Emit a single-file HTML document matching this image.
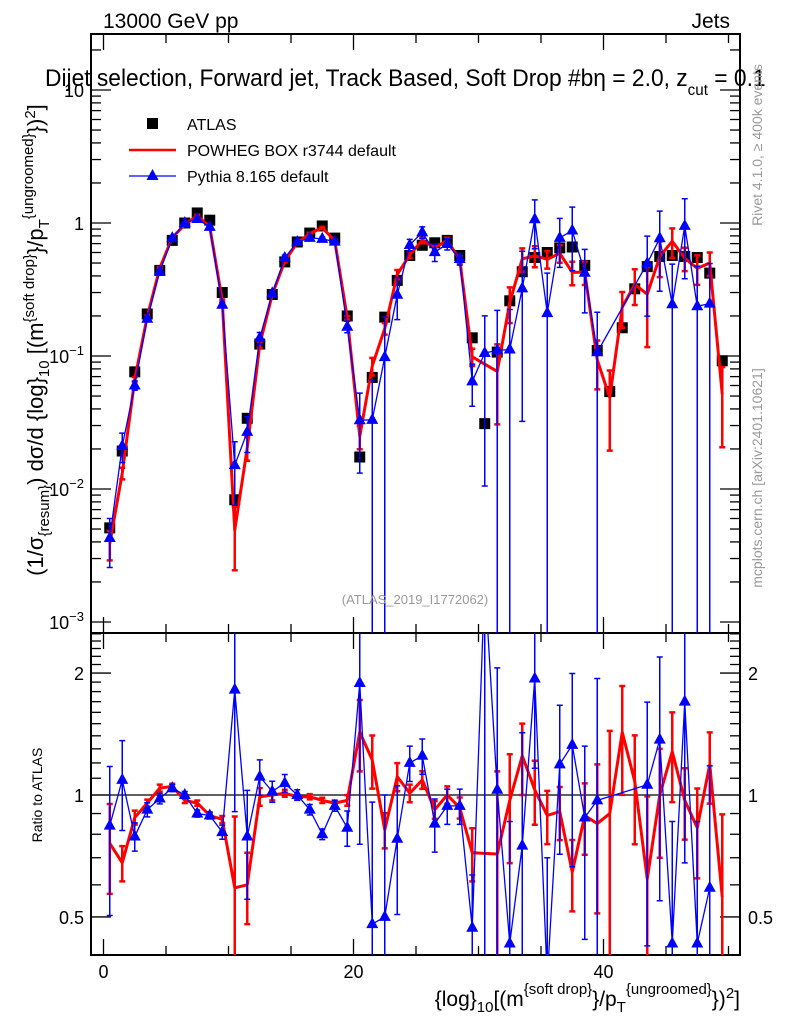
<!DOCTYPE html>
<html><head><meta charset="utf-8"><style>
html,body{margin:0;padding:0;background:#fff;width:786px;height:1024px;overflow:hidden;}
svg{display:block;font-family:"Liberation Sans",sans-serif;}
</style></head><body>
<svg id="c" width="786" height="1024" xmlns="http://www.w3.org/2000/svg">
<defs>
<clipPath id="cm"><rect x="91" y="34" width="649" height="599"/></clipPath>
<clipPath id="cr"><rect x="91" y="633" width="649" height="322"/></clipPath>
</defs>
<text x="103" y="28" font-size="21">13000 GeV pp</text>
<text x="730" y="28" font-size="21" text-anchor="end">Jets</text>
<g id="frames"></g>
<g id="marks"></g>
<text x="45" y="86" font-size="24" transform="translate(45,0) scale(0.95,1) translate(-45,0)">Dijet selection, Forward jet, Track Based, Soft Drop #b<tspan>η</tspan> = 2.0, z<tspan font-size="16" dy="9">cut</tspan><tspan dy="-9"> = 0.1</tspan></text>
<g>
<rect x="147" y="118" width="11" height="11" fill="#000"/>
<text x="187" y="130" font-size="16">ATLAS</text>
<line x1="129" y1="150" x2="176" y2="150" stroke="#f00" stroke-width="2.5"/>
<text x="187" y="156" font-size="16">POWHEG BOX r3744 default</text>
<line x1="129" y1="176" x2="176" y2="176" stroke="#00f" stroke-width="1.3"/>
<polygon points="152.5,169 146.5,180 158.5,180" fill="#00f"/>
<text x="187" y="182" font-size="16">Pythia 8.165 default</text>
</g>
<text x="415" y="604" font-size="13" fill="#999" text-anchor="middle">(ATLAS_2019_I1772062)</text>
<text transform="translate(43,340) rotate(-90)" font-size="22" text-anchor="middle">(1/σ<tspan font-size="15" dy="6">{resum}</tspan><tspan dy="-6">) dσ/d {log}</tspan><tspan font-size="15" dy="6">10</tspan><tspan dy="-6"> [(m</tspan><tspan font-size="15" dy="-9">{soft drop}</tspan><tspan dy="9">}/p</tspan><tspan font-size="15" dy="6">T</tspan><tspan font-size="15" dy="-16">{ungroomed}</tspan><tspan dy="10">})</tspan><tspan font-size="15" dy="-8">2</tspan><tspan dy="8">]</tspan></text>
<text transform="translate(42,795) rotate(-90)" font-size="14" text-anchor="middle">Ratio to ATLAS</text>
<text transform="translate(762,145) rotate(-90)" font-size="14" fill="#999" text-anchor="middle">Rivet 4.1.0, ≥ 400k events</text>
<text transform="translate(762,478) rotate(-90)" font-size="14" fill="#999" text-anchor="middle">mcplots.cern.ch [arXiv:2401.10621]</text>
<text x="740" y="1006" font-size="21" text-anchor="end">{log}<tspan font-size="15" dy="6">10</tspan><tspan dy="-6">[(m</tspan><tspan font-size="15" dy="-12">{soft drop}</tspan><tspan dy="12">}/p</tspan><tspan font-size="15" dy="6">T</tspan><tspan font-size="15" dy="-18">{ungroomed}</tspan><tspan dy="12">})</tspan><tspan font-size="15" dy="-8">2</tspan><tspan dy="8">]</tspan></text>
</svg>
<script>
const atlas=[0.0051,0.0193,0.076,0.207,0.44,0.74,1.0,1.19,1.05,0.30,0.0083,0.034,0.123,0.29,0.51,0.72,0.84,0.95,0.77,0.2,0.0174,0.069,0.196,0.37,0.57,0.68,0.71,0.74,0.57,0.137,0.031,0.107,0.26,0.43,0.55,0.6,0.65,0.66,0.48,0.11,0.054,0.163,0.32,0.47,0.56,0.57,0.56,0.55,0.42,0.092];
const powhegRatio=[0.76,0.68,0.88,0.955,1.04,1.05,0.97,0.955,0.89,0.87,0.59,0.6,0.99,1.0,1.01,0.99,0.99,0.97,0.955,0.97,1.43,1.22,0.82,1.11,1.01,1.09,0.92,1.0,0.93,0.72,null,0.715,0.97,1.25,1.03,0.89,0.91,0.645,0.89,0.85,0.9,1.43,1.08,0.62,1.0,1.28,0.97,0.83,1.19,0.56];
const powhegErr=[0.25,0.1,0.04,0.02,0.02,0.015,0.015,0.015,0.015,0.02,0.5,0.2,0.05,0.03,0.02,0.015,0.015,0.015,0.015,0.03,0.2,0.15,0.1,0.08,0.05,0.05,0.05,0.05,0.06,0.15,0,0.6,0.3,0.2,0.18,0.15,0.15,0.2,0.2,0.4,0.6,0.3,0.3,0.6,0.3,0.25,0.2,0.25,0.2,0.6];
const pythiaRatio=[0.84,1.09,0.79,0.92,0.98,1.04,1.0,0.9,0.89,0.81,1.82,0.79,1.11,1.02,1.07,1.0,0.92,0.8,0.94,0.83,1.89,0.48,0.5,0.78,1.2,1.25,0.85,0.94,0.94,0.47,3.4,1.03,0.43,0.75,1.94,0.35,1.19,1.33,0.88,0.97,null,null,null,1.06,1.37,0.43,1.7,0.43,0.59,null];
const pythiaErr=[0.4,0.25,0.08,0.04,0.03,0.02,0.02,0.02,0.02,0.04,0.5,0.3,0.1,0.06,0.05,0.03,0.03,0.03,0.03,0.1,0.6,1,1,0.35,0.1,0.1,0.15,0.1,0.1,0.35,0.9,1,1,0.9,0.4,1,0.4,0.5,0.5,1,0,0,0,0.6,0.6,1,0.6,1,1,0];
const xTicks=[0,20,40];
const mainTickLabels=["10","1","10⁻¹","10⁻²","10⁻³"];
const ratioTickLabels=["0.5","1","2"];

const NS="http://www.w3.org/2000/svg";
const L=91,R=740,MT=34,MB=633,RB=955;
function X(v){return 103.5+12.5*v;}
function YM(v){return 622-(Math.log10(v)+3)*133;}
function YR(r){return 795-Math.log10(r)*405;}
function el(tag,attrs,parent){const e=document.createElementNS(NS,tag);for(const k in attrs)e.setAttribute(k,attrs[k]);parent.appendChild(e);return e;}
const fr=document.getElementById('frames');
const mk=document.getElementById('marks');

let f=el('rect',{x:L,y:MT,width:R-L,height:MB-MT,fill:'none',stroke:'#000','stroke-width':2},fr);


f=el('rect',{x:L,y:MB,width:R-L,height:RB-MB,fill:'none',stroke:'#000','stroke-width':2},fr);


let ref=el('line',{x1:L,x2:R,y1:YR(1),y2:YR(1),stroke:'#000','stroke-width':1.2},fr);



for(let v=0;v<=50;v+=5){
  const major=xTicks.indexOf(v)>=0;const len=major?16:9;const x=X(v);
  for(const [y0,d] of [[MT,1],[MB,-1],[MB,1],[RB,-1]]){
    const t=el('line',{x1:x,x2:x,y1:y0,y2:y0+d*len,stroke:'#000','stroke-width':1.3},fr);
    
    
  }
}
xTicks.forEach(v=>{
  const t=el('text',{x:X(v),y:978,'font-size':18,'text-anchor':'middle'},fr);t.textContent=v;
  
  
});
for(let e=-3;e<=1;e++){
  for(let m=1;m<=9;m++){
    const v=m*Math.pow(10,e);const y=YM(v);if(y<MT||y>MB)continue;
    const len=m==1?20:10;
    for(const [x0,d] of [[L,1],[R,-1]]){
      const t=el('line',{x1:x0,x2:x0+d*len,y1:y,y2:y,stroke:'#000','stroke-width':1.3},fr);
      
      
    }
  }
}
[1,0,-1,-2,-3].forEach((e,i)=>{
  const y=YM(Math.pow(10,e));
  const t=el('text',{x:84,y:y+7,'font-size':18,'text-anchor':'end'},fr);
  if(e>=0)t.textContent=mainTickLabels[i];
  else{t.textContent='10';const s=el('tspan',{dy:-8,'font-size':13},t);s.textContent=String(e).replace('-','−');}
  
  
});
for(let k=4;k<=25;k++){
  const r=k/10;const y=YR(r);if(y<MB||y>RB)continue;
  const major=(k==5||k==10||k==20);const len=major?20:10;
  for(const [x0,d] of [[L,1],[R,-1]]){
    const t=el('line',{x1:x0,x2:x0+d*len,y1:y,y2:y,stroke:'#000','stroke-width':1.3},fr);
    
    
  }
}
[0.5,1,2].forEach((r,i)=>{
  for(const [x,a] of [[84,'end'],[748,'start']]){
    const t=el('text',{x:x,y:YR(r)+7,'font-size':18,'text-anchor':a},fr);t.textContent=ratioTickLabels[i];
    
    
  }
});

const gm=el('g',{'clip-path':'url(#cm)'},mk);
const gr=el('g',{'clip-path':'url(#cr)'},mk);

atlas.forEach((v,i)=>{
  const s=el('rect',{x:X(i+0.5)-5.5,y:YM(v)-5.5,width:11,height:11,fill:'#000'},gm);
  
  
});

function series(ratio,err,color,w,tri,name){
  let pm='',pr='';
  ratio.forEach((r,i)=>{
    if(r===null)return;
    const x=X(i+0.5);const v=atlas[i]*r;
    pm+=(pm?'L':'M')+x+','+YM(v);
    pr+=(pr?'L':'M')+x+','+YR(r);
  });
  let p=el('path',{d:pm,fill:'none',stroke:color,'stroke-width':w,'stroke-linejoin':'round'},gm);
  
  
  p=el('path',{d:pr,fill:'none',stroke:color,'stroke-width':w,'stroke-linejoin':'round'},gr);
  
  
  ratio.forEach((r,i)=>{
    if(r===null)return;
    const x=X(i+0.5);const v=atlas[i]*r;const e=err[i];
    if(e>0){
      const hi=v*(1+e),lo=v*(1-e);
      const yh=YM(hi),yl=lo>0?YM(lo):MB+5;
      const b=el('path',{d:`M${x},${yh}L${x},${yl}M${x-3},${yh}L${x+3},${yh}M${x-3},${yl}L${x+3},${yl}`,stroke:color,'stroke-width':w>2?2.5:1.5},gm);
      
      
      const rh=r*(1+e),rl=r*(1-e);
      const ryh=YR(rh),ryl=rl>0?YR(rl):RB+5;
      const c=el('path',{d:`M${x},${ryh}L${x},${ryl}M${x-3},${ryh}L${x+3},${ryh}M${x-3},${ryl}L${x+3},${ryl}`,stroke:color,'stroke-width':w>2?2.5:1.5},gr);
      
      
    }
    if(tri){
      const y=YM(v),yr=YR(r);
      const t=el('polygon',{points:`${x},${y-7} ${x-6},${y+4} ${x+6},${y+4}`,fill:color},gm);
      
      
      const t2=el('polygon',{points:`${x},${yr-7} ${x-6},${yr+4} ${x+6},${yr+4}`,fill:color},gr);
      
      
    }
  });
}
series(powhegRatio,powhegErr,'#f00',3,false,'powheg');
series(pythiaRatio,pythiaErr,'#00f',1.3,true,'pythia');
</script>
</body></html>
